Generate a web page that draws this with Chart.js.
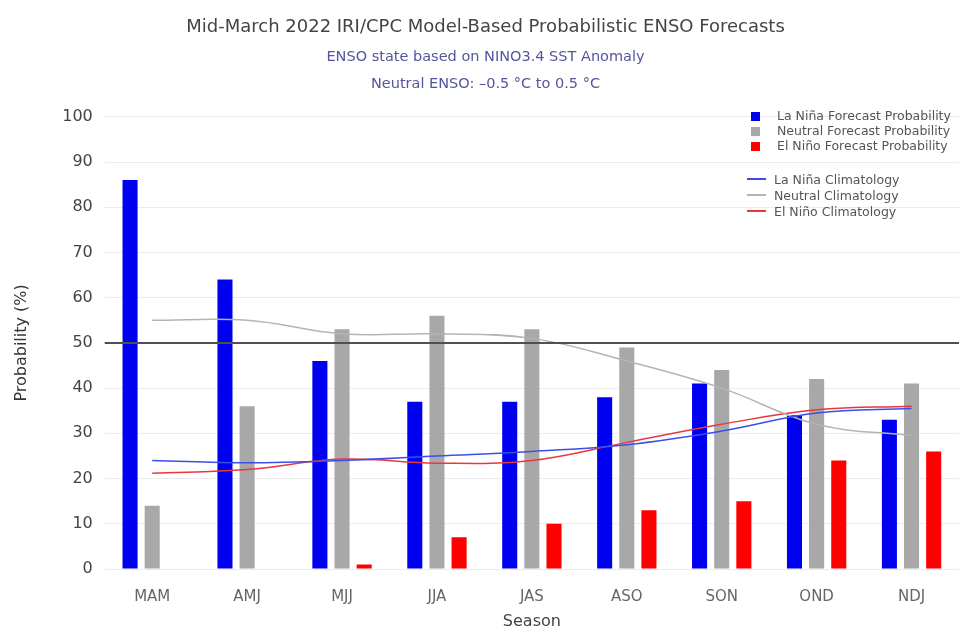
<!DOCTYPE html>
<html>
<head>
<meta charset="utf-8">
<script src="https://cdn.jsdelivr.net/npm/chart.js@4"></script>
<style>
  html, body { margin: 0; padding: 0; background: #fff; }
  #wrap { position: relative; width: 959px; height: 631px; overflow: hidden; }
  #legend { position: absolute; left: 746px; top: 108px; font: 12.5px "DejaVu Sans", sans-serif; color: #555; }
  #legend .row { height: 15px; line-height: 15px; white-space: nowrap; }
  #legend .row.l { height: 16px; line-height: 16px; }
  #legend .sq { display: inline-block; width: 9px; height: 9px; margin: 0 17px 0 5px; vertical-align: -1px; }
  #legend .ln { display: inline-block; width: 19px; height: 2px; margin: 0 8px 0 1px; vertical-align: 4px; }
  #legend .gap { height: 19px; }
</style>
</head>
<body>
<div id="wrap">
  <canvas id="ensoChart" width="959" height="631"></canvas>
  <div id="legend"></div>
</div>
<script>
// Data
const seasons = ['MAM', 'AMJ', 'MJJ', 'JJA', 'JAS', 'ASO', 'SON', 'OND', 'NDJ'];
const laNinaProb = [86, 64, 46, 37, 37, 38, 41, 34, 33];
const neutralProb = [14, 36, 53, 56, 53, 49, 44, 42, 41];
const elNinoProb = [0, 0, 1, 7, 10, 13, 15, 24, 26];
const laNinaClim = [24, 23.5, 24, 25, 26, 27.5, 30.5, 34.5, 35.5];
const neutralClim = [55, 55, 52, 52, 51, 46, 40, 32, 29.5];
const elNinoClim = [21.2, 22, 24.3, 23.4, 24, 28, 32, 35.2, 36];
const yTicks = [0, 10, 20, 30, 40, 50, 60, 70, 80, 90, 100];
const refLevel = 50;

// Colours
const blue = '#0000f0';
const gray = '#a8a8a8';
const red = '#ff0000';
const laNinaLine = '#3a4fe8';
const neutralLine = '#b4b4b4';
const elNinoLine = '#e8383c';
const font = '"DejaVu Sans", sans-serif';

// Horizontal reference line at 50%
const refLinePlugin = {
    id: 'refLine',
    afterDatasetsDraw(chart) {
        const { ctx, chartArea, scales } = chart;
        const y = scales.y.getPixelForValue(refLevel);
        ctx.save();
        ctx.strokeStyle = '#505050';
        ctx.lineWidth = 2;
        ctx.beginPath();
        ctx.moveTo(chartArea.left, y);
        ctx.lineTo(chartArea.right, y);
        ctx.stroke();
        ctx.restore();
    }
};

const barOpts = { categoryPercentage: 0.7, barPercentage: 0.68, order: 2 };
const lineOpts = { type: 'line', pointRadius: 0, borderWidth: 1.5, tension: 0.4, fill: false, order: 1 };

const chart = new Chart(document.getElementById('ensoChart').getContext('2d'), {
    type: 'bar',
    data: {
        labels: seasons,
        datasets: [
            { label: 'La Niña Forecast Probability', data: laNinaProb, backgroundColor: blue, ...barOpts },
            { label: 'Neutral Forecast Probability', data: neutralProb, backgroundColor: gray, ...barOpts },
            { label: 'El Niño Forecast Probability', data: elNinoProb, backgroundColor: red, ...barOpts },
            { label: 'La Niña Climatology', data: laNinaClim, borderColor: laNinaLine, ...lineOpts },
            { label: 'Neutral Climatology', data: neutralClim, borderColor: neutralLine, ...lineOpts },
            { label: 'El Niño Climatology', data: elNinoClim, borderColor: elNinoLine, ...lineOpts }
        ]
    },
    options: {
        responsive: false,
        animation: false,
        layout: { padding: { left: 12, right: 0, top: 0, bottom: 1 } },
        scales: {
            x: {
                grid: { display: false, drawTicks: false },
                border: { display: false },
                ticks: { color: '#666', font: { family: font, size: 15, lineHeight: 1.2 }, padding: 19 },
                title: { display: true, text: 'Season', color: '#444', font: { family: font, size: 16, lineHeight: 1.0 }, padding: { top: -11, bottom: 0 } }
            },
            y: {
                min: 0,
                max: 100,
                afterBuildTicks: axis => { axis.ticks = yTicks.map(v => ({ value: v })); },
                grid: { color: '#ececec', drawTicks: false },
                border: { display: false },
                ticks: { color: '#444', font: { family: font, size: 16 }, padding: 12 },
                title: { display: true, text: 'Probability (%)', color: '#333', font: { family: font, size: 16 }, padding: { top: 0, bottom: 19 } }
            }
        },
        plugins: {
            legend: { display: false },
            tooltip: { enabled: false },
            title: {
                display: true,
                text: 'Mid-March 2022 IRI/CPC Model-Based Probabilistic ENSO Forecasts',
                color: '#444',
                font: { family: font, size: 18, weight: 'normal', lineHeight: 1.2 },
                padding: { top: 17, bottom: 6 }
            },
            subtitle: {
                display: true,
                text: ['ENSO state based on NINO3.4 SST Anomaly', 'Neutral ENSO: –0.5 °C to 0.5 °C'],
                color: '#55559e',
                font: { family: font, size: 14.5, lineHeight: 1.8 },
                padding: { top: 0, bottom: 20 }
            }
        }
    },
    plugins: [refLinePlugin]
});

// Legend built from the datasets
const legend = document.getElementById('legend');
chart.data.datasets.forEach((ds, i) => {
    if (i === 3) {
        const gap = document.createElement('div');
        gap.className = 'gap';
        legend.appendChild(gap);
    }
    const row = document.createElement('div');
    row.className = 'row';
    const mark = document.createElement('span');
    if (ds.type === 'line') {
        row.className = 'row l';
        mark.className = 'ln';
        mark.style.background = ds.borderColor;
    } else {
        mark.className = 'sq';
        mark.style.background = ds.backgroundColor;
    }
    row.appendChild(mark);
    row.appendChild(document.createTextNode(ds.label));
    legend.appendChild(row);
});
</script>
</body>
</html>
